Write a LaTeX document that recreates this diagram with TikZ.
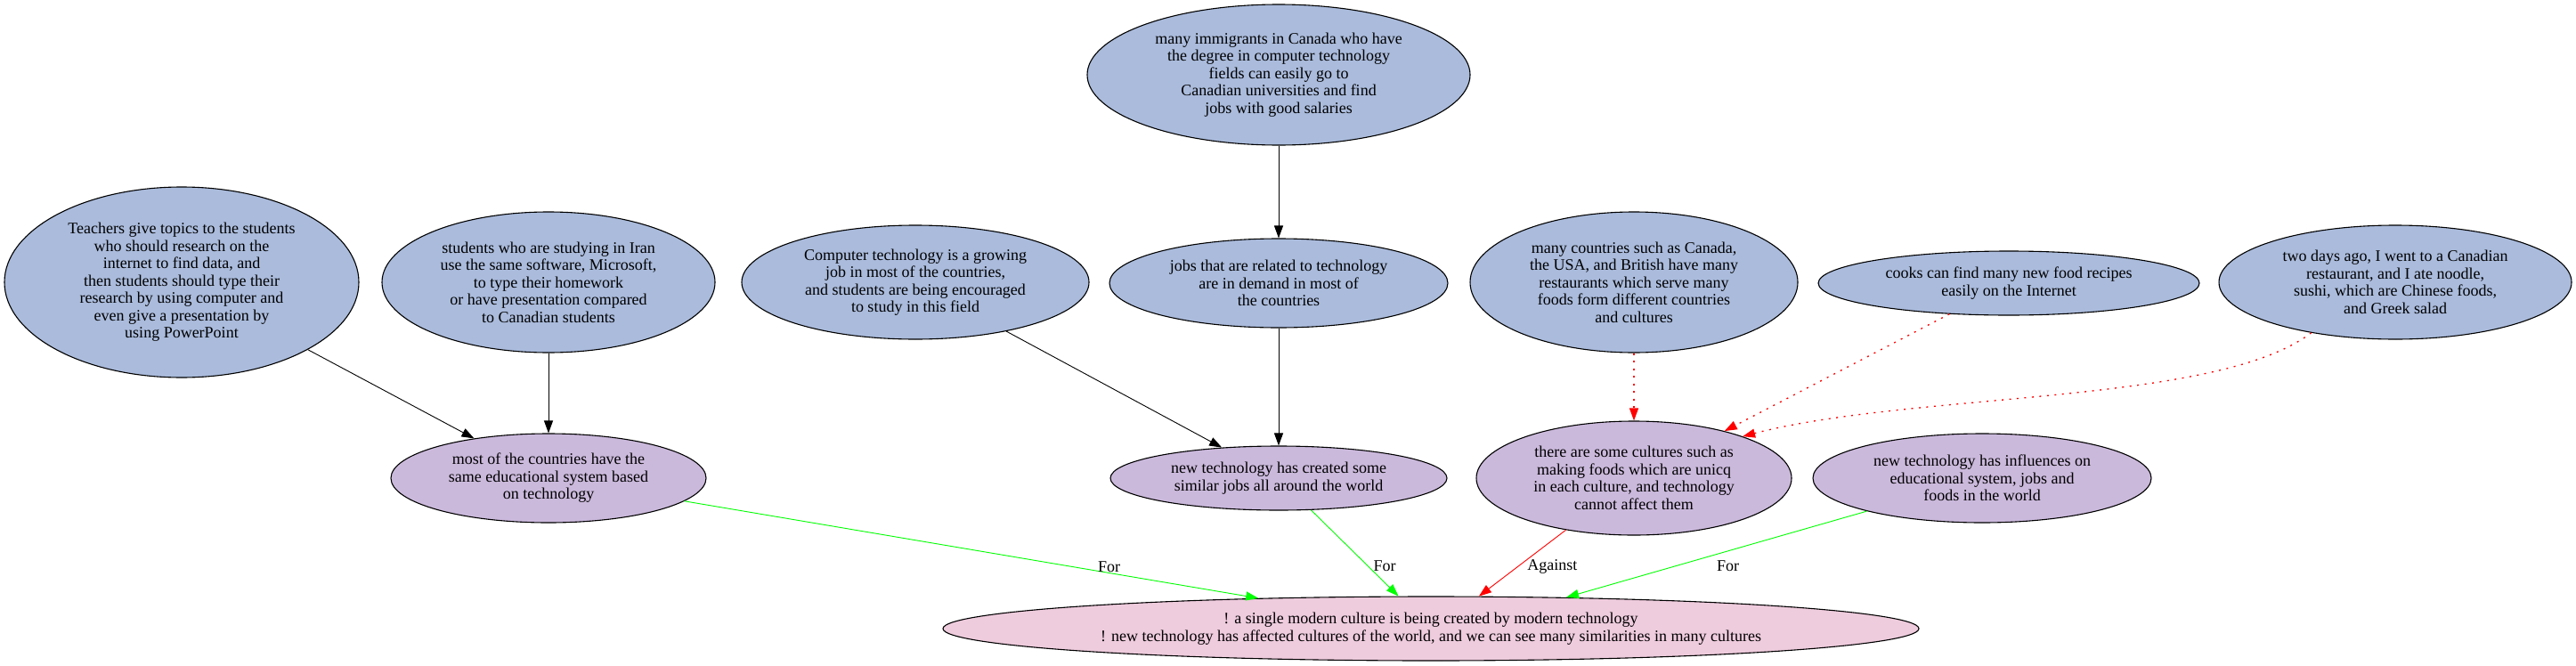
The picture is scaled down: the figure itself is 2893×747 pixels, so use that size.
\documentclass[tikz,border=0pt]{standalone}
\usepackage{fontspec}
\setmainfont{Liberation Serif}
\usepackage{xcolor}
\usepackage{tikz}
\usetikzlibrary{shapes.geometric,arrows.meta}
\definecolor{argBlue}{HTML}{AABBDC}
\definecolor{argPurple}{HTML}{CBB9DC}
\definecolor{argPink}{HTML}{EECBDD}
\definecolor{forGreen}{HTML}{00FF00}
\definecolor{againstRed}{HTML}{FF0000}

\begin{document}
\begin{tikzpicture}[x=1pt,y=-1pt,
  arg/.style={ellipse,draw,line width=1.1pt,inner sep=0pt,align=center,
    font=\fontsize{18}{19.5}\selectfont},
  premise/.style={arg,fill=argBlue},
  claim/.style={arg,fill=argPurple},
  thesis/.style={arg,fill=argPink},
  link/.style={line width=0.9pt,-{Triangle[length=14pt,width=10pt]}},
  forLink/.style={link,forGreen},
  againstLink/.style={link,againstRed},
  hint/.style={link,againstRed,line width=1.3pt,dash pattern=on 2pt off 6.5pt},
  lbl/.style={inner sep=0pt,text=black,font=\fontsize{18}{19.5}\selectfont}]
  \useasboundingbox (0,0) rectangle (2893,747);
  % Top row of evidence
  \node[premise,minimum width=398,minimum height=214] (teachers) at (204,317)
    {Teachers give topics to the students\\who should research on the\\internet to find data, and\\then students should type their\\research by using computer and\\even give a presentation by\\using PowerPoint};
  \node[premise,minimum width=374,minimum height=158] (iran) at (616,317)
    {students who are studying in Iran\\use the same software, Microsoft,\\to type their homework\\or have presentation compared\\to Canadian students};
  \node[premise,minimum width=430,minimum height=158] (immigrants) at (1436,84)
    {many immigrants in Canada who have\\the degree in computer technology\\fields can easily go to\\Canadian universities and find\\jobs with good salaries};
  \node[premise,minimum width=390,minimum height=128] (growingJob) at (1028,317)
    {Computer technology is a growing\\job in most of the countries,\\and students are being encouraged\\to study in this field};
  \node[premise,minimum width=380,minimum height=100] (techJobs) at (1436,318)
    {jobs that are related to technology\\are in demand in most of\\the countries};
  \node[premise,minimum width=368,minimum height=158] (restaurants) at (1835,317)
    {many countries such as Canada,\\the USA, and British have many\\restaurants which serve many\\foods form different countries\\and cultures};
  \node[premise,minimum width=428,minimum height=72] (recipes) at (2256,318)
    {cooks can find many new food recipes\\easily on the Internet};
  \node[premise,minimum width=396,minimum height=128] (canadianMeal) at (2690,317)
    {two days ago, I went to a Canadian\\restaurant, and I ate noodle,\\sushi, which are Chinese foods,\\and Greek salad};
  % Middle row of claims
  \node[claim,minimum width=354,minimum height=100] (sameEdu) at (616,537)
    {most of the countries have the\\same educational system based\\on technology};
  \node[claim,minimum width=378,minimum height=72] (similarJobs) at (1436,537)
    {new technology has created some\\similar jobs all around the world};
  \node[claim,minimum width=354,minimum height=128] (uniqueFood) at (1835,537)
    {there are some cultures such as\\making foods which are unicq\\in each culture, and technology\\cannot affect them};
  \node[claim,minimum width=380,minimum height=100] (influences) at (2226,537)
    {new technology has influences on\\educational system, jobs and\\foods in the world};
  % The thesis at the bottom
  \node[thesis,minimum width=1096,minimum height=72] (culture) at (1607,706)
    {! a single modern culture is being created by modern technology\\! new technology has affected cultures of the world, and we can see many similarities in many cultures};
  % Support arrows
  \draw[link] (teachers) -- (sameEdu);
  \draw[link] (iran) -- (sameEdu);
  \draw[link] (immigrants) -- (techJobs);
  \draw[link] (growingJob) -- (similarJobs);
  \draw[link] (techJobs) -- (similarJobs);
  \draw[hint] (restaurants) -- (uniqueFood);
  \draw[hint] (recipes) -- (uniqueFood);
  \draw[hint] (canadianMeal.211) .. controls (2490,455) and (2150,440) .. (uniqueFood.21);
  % For and against the thesis
  \draw[forLink] (sameEdu) -- (culture.170)
    node[lbl,pos=0.74,above] (forEdu) {For};
  \draw[forLink] (similarJobs) -- (culture.135)
    node[lbl,pos=0.65,right=6pt] (forJobs) {For};
  \draw[againstLink] (uniqueFood) -- (culture.34)
    node[lbl,pos=0.55,right=10pt] (againstFood) {Against};
  \draw[forLink] (influences) -- (culture.13)
    node[lbl,pos=0.64,right=47pt] (forInfl) {For};
\end{tikzpicture}
\end{document}
